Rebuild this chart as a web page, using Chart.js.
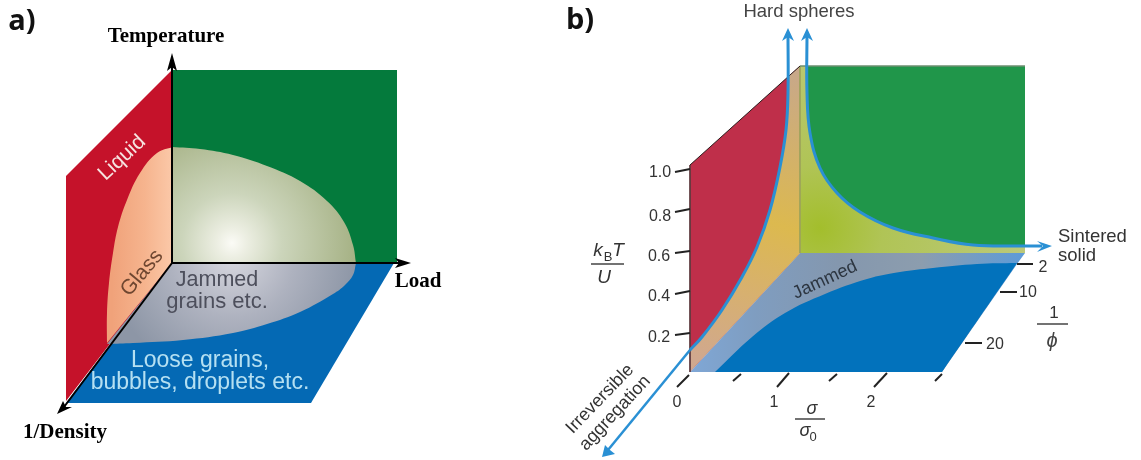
<!DOCTYPE html>
<html>
<head>
<meta charset="utf-8">
<style>
    html, body { margin: 0; padding: 0; background: #fff; }
    canvas { display: block; }
</style>
<script src="https://cdn.jsdelivr.net/npm/chart.js@4"></script>
</head>
<body>
<canvas id="chart-jamming" width="1141" height="460"></canvas>
<script>
// panel a outlines (doubled points are sharp corners)
const aWall = [[172, 70], [66, 176], [66, 401], [172, 263]];
const aBack = [[172, 70], [397, 70], [397, 263], [172, 263]];
const aFloor = [[172, 263], [394, 263], [311, 403], [66, 403]];
const aGlass = [[173, 147], [173, 147], [157, 153], [140, 173], [127, 200], [118, 227], [113, 253], [109, 283], [107, 313], [107, 343], [107, 343], [172, 263], [172, 263]];
const aDome = [[172, 147], [172, 147], [200, 149], [233, 155], [267, 166], [300, 181], [327, 201], [344, 222], [353, 245], [356, 263], [356, 263], [172, 263], [172, 263]];
const aJammed = [[172, 263], [172, 263], [356, 263], [356, 263], [353, 275], [345, 285], [333, 294], [300, 312], [267, 324], [233, 333], [183, 340], [133, 343], [107, 344], [107, 344]];
const aAxisT = [[172, 263], [172, 62]];
const aAxisL = [[172, 263], [400, 263]];
const aAxisD = [[172, 263], [64, 407]];
const aHeadT = [[172, 53], [177, 71], [172, 67], [167, 71]];
const aHeadL = [[411, 263], [395, 258], [399, 263], [395, 268]];
const aHeadD = [[57, 414], [72, 407], [66, 407], [63, 401]];

// panel b outlines
const bWall = [[800, 66], [690, 165], [690, 372], [800, 253]];
const bBack = [[800, 66], [1025, 66], [1025, 253], [800, 253]];
const bFloor = [[800, 253], [1025, 253], [1017, 264], [942, 372], [690, 372]];
const bHardCurve = [[788, 33], [788, 93], [786, 130], [780, 167], [770, 210], [757, 247], [742, 277], [722, 310], [702, 337], [690, 350]];
const bSinterCurve = [[807, 33], [807, 93], [810, 133], [820, 168], [837, 193], [860, 212], [893, 228], [933, 238], [973, 245], [1025, 246], [1042, 246]];
const bWedge = [[800, 66], [800, 66], [788, 77], [788, 77], [788, 93], [786, 130], [780, 167], [770, 210], [757, 247], [742, 277], [722, 310], [702, 337], [690, 350], [690, 350], [690, 372], [690, 372], [800, 253], [800, 253]];
const bYellow = [[800, 66], [800, 66], [807, 66], [807, 66], [807, 93], [810, 133], [820, 168], [837, 193], [860, 212], [893, 228], [933, 238], [973, 245], [1025, 246], [1025, 246], [1025, 253], [1025, 253], [800, 253], [800, 253]];
const bDeep = [[715, 372], [715, 372], [752, 337], [785, 313], [825, 294], [867, 279], [900, 272], [933, 268], [977, 264], [1017, 263], [1017, 263], [942, 372], [942, 372]];
const bAggregation = [[690, 350], [608, 450]];
const bHeadHard = [[788, 28], [794, 41], [788, 37], [782, 41]];
const bHeadSinter = [[807, 28], [813, 41], [807, 37], [801, 41]];
const bHeadSolid = [[1052, 246], [1037, 241], [1043, 246], [1037, 252]];
const bHeadAggr = [[602, 457], [605, 445], [610, 450], [615, 454]];
const bEdgeV = [[800, 66], [800, 253]];
const bEdgeDiag = [[800, 66], [690, 165]];
const bEdgeTop = [[800, 66], [1025, 66]];
const bEdgeLeft = [[690, 165], [690, 372]];

// tick marks of panel b
const yTicks = [[[675, 172], [690, 169]], [[675, 212], [690, 209]], [[675, 253], [690, 251]], [[675, 294], [690, 291]], [[675, 335], [690, 333]]];
const xTicks = [[[677, 387], [689, 375]], [[733, 381], [741, 374]], [[777, 387], [789, 373]], [[829, 381], [837, 374]], [[874, 387], [887, 373]], [[935, 381], [942, 374]]];
const zTicks = [[[1017, 264], [1033, 264]], [[1000, 292], [1017, 292]], [[965, 343], [982, 343]]];
const fractionBars = [[[591, 264], [624, 264]], [[795, 419], [825, 419]], [[1037, 324], [1068, 324]]];

// tick labels
const yTickLabels = ['1.0', '0.8', '0.6', '0.4', '0.2'];
const yTickLabelPos = [[660, 172], [660, 216], [659, 256], [659, 296], [659, 337]];
const xTickLabels = ['0', '1', '2'];
const xTickLabelPos = [[677, 402], [774, 402], [871, 402]];
const zTickLabels = ['2', '10', '20'];
const zTickLabelPos = [[1043, 267], [1028, 292], [995, 344]];

const SERIF_B = 'bold 21px "Liberation Serif"';
const SANS = '"Liberation Sans"';

const texts = [
    { t: 'a)', x: 22, y: 21, font: 'bold 29px "Open Sans"', c: '#111' },
    { t: 'b)', x: 580, y: 20, font: 'bold 29px "Open Sans"', c: '#111' },
    { t: 'Temperature', x: 166, y: 36, font: SERIF_B, c: '#000' },
    { t: 'Load', x: 418, y: 281, font: SERIF_B, c: '#000' },
    { t: '1/Density', x: 65, y: 432, font: SERIF_B, c: '#000' },
    { t: 'Liquid', x: 122, y: 157, font: '21px ' + SANS, c: '#f6e3e0', r: -43 },
    { t: 'Glass', x: 142, y: 272, font: '21px ' + SANS, c: '#6e4630', r: -50 },
    { t: 'Jammed', x: 217, y: 279, font: '21.5px ' + SANS, c: '#4d4f5c' },
    { t: 'grains etc.', x: 217, y: 301, font: '22px ' + SANS, c: '#4d4f5c' },
    { t: 'Loose grains,', x: 200, y: 360, font: '23px ' + SANS, c: '#b5e0f2' },
    { t: 'bubbles, droplets etc.', x: 200, y: 382, font: '23px ' + SANS, c: '#b5e0f2' },
    { t: 'Hard spheres', x: 799, y: 11, font: '18.5px ' + SANS, c: '#444' },
    { t: 'Sintered', x: 1058, y: 236, font: '18.5px ' + SANS, c: '#333', a: 'left' },
    { t: 'solid', x: 1058, y: 255, font: '18.5px ' + SANS, c: '#333', a: 'left' },
    { t: 'Jammed', x: 825, y: 279, font: '18px ' + SANS, c: '#2c3540', r: -25 },
    { t: 'Irreversible', x: 600, y: 398, font: '18px ' + SANS, c: '#333', r: -46 },
    { t: 'aggregation', x: 615, y: 412, font: '18px ' + SANS, c: '#333', r: -47 },
    { t: 'k', x: 598, y: 250, font: 'italic 19px ' + SANS, c: '#333' },
    { t: 'B', x: 608, y: 256, font: '13px ' + SANS, c: '#333' },
    { t: 'T', x: 618, y: 250, font: 'italic 19px ' + SANS, c: '#333' },
    { t: 'U', x: 604, y: 277, font: 'italic 19px ' + SANS, c: '#333' },
    { t: 'σ', x: 812, y: 408, font: 'italic 18px ' + SANS, c: '#333' },
    { t: 'σ', x: 805, y: 430, font: 'italic 18px ' + SANS, c: '#333' },
    { t: '0', x: 813, y: 436, font: '13px ' + SANS, c: '#333' },
    { t: '1', x: 1054, y: 312, font: '17px ' + SANS, c: '#333' },
    { t: 'ϕ', x: 1052, y: 340, font: 'italic 20px ' + SANS, c: '#444' }
];

function addTickTexts(labels, pos) {
    labels.forEach(function (label, i) {
        texts.push({ t: label, x: pos[i][0], y: pos[i][1], font: '16px ' + SANS, c: '#333' });
    });
}
addTickTexts(yTickLabels, yTickLabelPos);
addTickTexts(xTickLabels, xTickLabelPos);
addTickTexts(zTickLabels, zTickLabelPos);

// scales have no size yet on the first options pass
function notReady(c, stops) {
    const x = c.chart.scales.x;
    return !x || !isFinite(x.getPixelForValue(0)) ? stops[stops.length - 1][1] : null;
}

function radial(cx, cy, r, stops) {
    return function (c) {
        const early = notReady(c, stops);
        if (early) return early;
        const { ctx, scales } = c.chart;
        const px = scales.x.getPixelForValue(cx);
        const py = scales.y.getPixelForValue(cy);
        const g = ctx.createRadialGradient(px, py, 0, px, py, r);
        stops.forEach(function (s) { g.addColorStop(s[0], s[1]); });
        return g;
    };
}

function linear(x0, y0, x1, y1, stops) {
    return function (c) {
        const early = notReady(c, stops);
        if (early) return early;
        const { ctx, scales } = c.chart;
        const g = ctx.createLinearGradient(
            scales.x.getPixelForValue(x0), scales.y.getPixelForValue(y0),
            scales.x.getPixelForValue(x1), scales.y.getPixelForValue(y1));
        stops.forEach(function (s) { g.addColorStop(s[0], s[1]); });
        return g;
    };
}

function toPoints(list) {
    return list.map(function (p) { return { x: p[0], y: p[1] }; });
}

// filled area
function area(list, color, tension) {
    return {
        data: toPoints(list),
        showLine: true,
        fill: 'shape',
        backgroundColor: color,
        borderWidth: 0,
        pointRadius: 0,
        tension: tension || 0
    };
}

// stroke only
function stroke(list, color, width, tension) {
    return {
        data: toPoints(list),
        showLine: true,
        fill: false,
        borderColor: color,
        borderWidth: width,
        pointRadius: 0,
        tension: tension || 0
    };
}

const layers = [
    area(aBack, '#047a3c'),
    area(aWall, '#c5122a'),
    area(aFloor, '#0469b4'),
    area(aGlass, linear(112, 250, 172, 250, [[0, '#f0a27a'], [0.55, '#f6b48e'], [1, '#fbc8a8']]), 0.4),
    area(aDome, radial(232, 243, 125, [[0, '#fbfbf6'], [0.12, '#eceee2'], [0.4, '#ccd5bb'], [1, '#a5b184']]), 0.4),
    area(aJammed, radial(232, 255, 125, [[0, '#d8d8e0'], [0.5, '#aeb2bf'], [1, '#8d96a6']]), 0.4),
    stroke(aAxisT, '#000', 2),
    stroke(aAxisL, '#000', 2),
    stroke(aAxisD, '#000', 2),
    area(aHeadT, '#000'),
    area(aHeadL, '#000'),
    area(aHeadD, '#000'),

    area(bBack, '#20964a'),
    area(bWall, '#bf2f4a'),
    area(bFloor, linear(690, 300, 1020, 300, [[0, '#7fa7d6'], [0.2, '#7f9dc0'], [0.45, '#8497ae'], [0.7, '#8c9dae'], [1, '#5f9bd6']])),
    area(bYellow, radial(820, 228, 210, [[0, '#a3be2c'], [0.3, '#b0c456'], [1, '#bcc97a']]), 0.4),
    area(bWedge, linear(795, 70, 700, 360, [[0, '#c8a88a'], [0.5, '#dcb94f'], [0.75, '#d7b070'], [1, '#d0a88e']]), 0.4),
    area(bDeep, '#0272bc', 0.4),
    stroke(bEdgeV, '#9da35a', 1),
    stroke(bEdgeTop, '#6c8f70', 1.5),
    stroke(bEdgeDiag, '#2a1a1a', 1),
    stroke(bEdgeLeft, '#5e3a3e', 1),
    stroke(bHardCurve, '#2a90d4', 3, 0.4),
    stroke(bSinterCurve, '#2a90d4', 3, 0.4),
    stroke(bAggregation, '#2a90d4', 2.5),
    area(bHeadHard, '#2a90d4'),
    area(bHeadSinter, '#2a90d4'),
    area(bHeadSolid, '#2a90d4'),
    area(bHeadAggr, '#2a90d4')
];

yTicks.concat(xTicks, zTicks).forEach(function (t) {
    layers.push(stroke(t, '#222', 2));
});
fractionBars.forEach(function (t) {
    layers.push(stroke(t, '#444', 1.5));
});

// first layer goes at the back
layers.forEach(function (d, i) { d.order = layers.length - i; });

const textPlugin = {
    id: 'diagramText',
    afterDraw: function (chart) {
        const ctx = chart.ctx;
        texts.forEach(function (l) {
            ctx.save();
            ctx.translate(chart.scales.x.getPixelForValue(l.x), chart.scales.y.getPixelForValue(l.y) + 1);
            if (l.r) ctx.rotate(l.r * Math.PI / 180);
            ctx.font = l.font;
            ctx.fillStyle = l.c;
            ctx.textAlign = l.a || 'center';
            ctx.textBaseline = 'middle';
            ctx.fillText(l.t, 0, 0);
            ctx.restore();
        });
    }
};

new Chart(document.getElementById('chart-jamming'), {
    type: 'scatter',
    data: { datasets: layers },
    plugins: [textPlugin],
    options: {
        responsive: false,
        animation: false,
        layout: { padding: 0 },
        scales: {
            x: { type: 'linear', min: 0, max: 1141, display: false },
            y: { type: 'linear', min: 0, max: 460, reverse: true, display: false }
        },
        plugins: {
            legend: { display: false },
            tooltip: { enabled: false }
        }
    }
});
</script>
</body>
</html>
